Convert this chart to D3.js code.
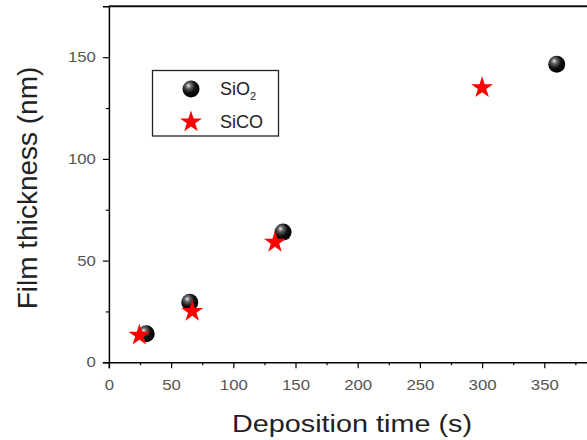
<!DOCTYPE html>
<html>
  <head>
    <meta charset="utf-8">
    <script src="https://d3js.org/d3.v7.min.js"></script>
    <style>
      body { margin: 0; background: #fff; }
      svg { display: block; }
    </style>
  </head>
  <body>
    <div class="chart"></div>
    <script>

    // values
    var sio2Time = [30, 65, 140, 360];
    var sio2Thick = [14, 29.5, 64, 146.5];
    var sicoTime = [24.5, 67, 133.5, 300];
    var sicoThick = [13.3, 25, 59, 135];
    var xTicks = [0, 50, 100, 150, 200, 250, 300, 350];
    var yTicks = [0, 50, 100, 150];
    var seriesNames = ["SiO", "SiCO"];

    var W = 587, H = 440;
    var margin = {top: 6, left: 108.9, bottom: 440 - 362.3};

    var svg = d3.select(".chart").append("svg").attr("width", W).attr("height", H);

    var x = d3.scaleLinear().domain([0, 400]).range([margin.left, margin.left + 400 * 1.244]);
    var y = d3.scaleLinear().domain([0, 175]).range([H - margin.bottom, H - margin.bottom - 175 * 2.034]);

    // sphere gradient
    var defs = svg.append("defs");
    var grad = defs.append("radialGradient").attr("id", "ball")
      .attr("cx", "0.38").attr("cy", "0.35").attr("r", "0.65").attr("fx", "0.35").attr("fy", "0.3");
    grad.append("stop").attr("offset", "0").attr("stop-color", "#e8e8e8");
    grad.append("stop").attr("offset", "0.25").attr("stop-color", "#666");
    grad.append("stop").attr("offset", "0.6").attr("stop-color", "#111");
    grad.append("stop").attr("offset", "1").attr("stop-color", "#000");

    var font = "Arial, 'Liberation Sans', sans-serif";
    var sx = 1.12; // the original text looks a bit stretched sideways

    // x axis
    svg.append("g").attr("transform", "translate(0," + y(0) + ")")
      .call(d3.axisBottom(x).tickValues(xTicks).tickSize(6).tickPadding(11).tickFormat(d3.format("d")));
    svg.append("g").attr("transform", "translate(0," + y(0) + ")")
      .call(d3.axisBottom(x).tickValues(d3.range(25, 400, 50)).tickSize(3).tickFormat(""))
      .select(".domain").remove();

    // y axis
    svg.append("g").attr("class", "yax").attr("transform", "translate(" + x(0) + ",0)")
      .call(d3.axisLeft(y).tickValues(yTicks).tickSize(6).tickPadding(5.6).tickFormat(d3.format("d")));
    svg.append("g").attr("transform", "translate(" + x(0) + ",0)")
      .call(d3.axisLeft(y).tickValues([25, 75, 125]).tickSize(3).tickFormat(""))
      .select(".domain").remove();

    svg.selectAll(".domain").attr("stroke", "#000").attr("stroke-width", 1.5);
    svg.selectAll(".tick line").attr("stroke", "#000").attr("stroke-width", 1.2);
    svg.selectAll(".tick text").attr("font-family", font).attr("font-size", "15px").attr("fill", "#555")
      .attr("transform", "scale(" + sx + ",1)");
    svg.selectAll(".yax .tick text").attr("dy", "0.3em");

    // top frame line
    svg.append("line").attr("x1", x(0)).attr("x2", x(400)).attr("y1", y(175)).attr("y2", y(175))
      .attr("stroke", "#111").attr("stroke-width", 2);

    // axis titles
    svg.append("text").attr("transform", "translate(352,431.5) scale(1.2,1)").attr("text-anchor", "middle")
      .attr("font-family", font).attr("font-size", "24px").attr("fill", "#222")
      .text("Deposition time (s)");
    svg.append("text").attr("transform", "translate(37,188) rotate(-90)").attr("text-anchor", "middle")
      .attr("font-family", font).attr("font-size", "28px").attr("fill", "#222")
      .text("Film thickness (nm)");

    var star = d3.symbol().type(d3.symbolStar).size(150);

    function ball(g, cx, cy) {
      g.append("circle").attr("cx", cx).attr("cy", cy).attr("r", 8.5).attr("fill", "url(#ball)");
    }

    // SiO2 spheres
    sio2Time.forEach(function(t, i) { ball(svg, x(t), y(sio2Thick[i])); });

    // SiCO stars
    svg.selectAll(".star").data(sicoTime).enter().append("path")
      .attr("class", "star")
      .attr("d", star)
      .attr("transform", function(d, i) { return "translate(" + x(d) + "," + y(sicoThick[i]) + ")"; })
      .attr("fill", "#ff0000");

    // legend
    var lg = svg.append("g");
    lg.append("rect").attr("x", 152.5).attr("y", 70.5).attr("width", 126).attr("height", 65.5)
      .attr("fill", "#fff").attr("stroke", "#222").attr("stroke-width", 1.3);
    ball(lg, 191, 89);
    lg.append("path").attr("d", star).attr("transform", "translate(191,122)").attr("fill", "#ff0000");
    var t1 = lg.append("text").attr("x", 220).attr("y", 95).attr("font-family", font)
      .attr("font-size", "18px").attr("fill", "#222").text(seriesNames[0]);
    t1.append("tspan").attr("font-size", "11px").attr("dy", 5).text("2");
    lg.append("text").attr("x", 220).attr("y", 128).attr("font-family", font)
      .attr("font-size", "18px").attr("fill", "#222").text(seriesNames[1]);

    </script>
  </body>
</html>
